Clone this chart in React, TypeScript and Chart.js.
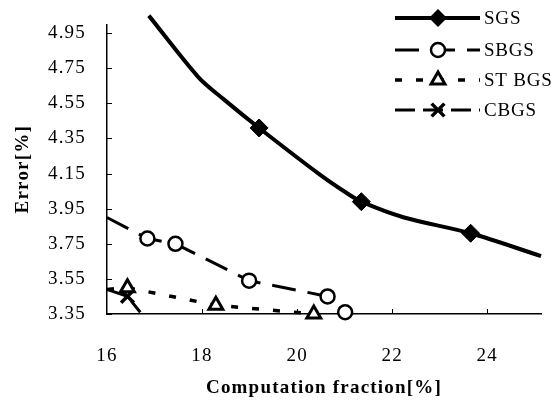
import React, { useEffect, useRef } from 'react';
import { Chart, registerables } from 'chart.js';

Chart.register(...registerables);

// ---- data ----
const X_TICKS = [16, 18, 20, 22, 24];
const Y_TICKS = [3.35, 3.55, 3.75, 3.95, 4.15, 4.35, 4.55, 4.75, 4.95];
const X_MIN = 16;
const X_MAX = 25.13;
const Y_MIN = 3.35;
const Y_MAX = 5.0;

const SERIES_LABELS = ['SGS', 'SBGS', 'ST BGS', 'CBGS'];

const SGS_X = [16.88, 17.92, 18.47, 19.2, 20.45, 21.01, 21.35, 22.25, 23.65, 25.13];
const SGS_Y = [5.05, 4.70, 4.57, 4.41, 4.15, 4.045, 3.99, 3.90, 3.81, 3.68];
const SGS_MARKED = [false, false, false, true, false, false, true, false, true, false];

const SBGS_X = [16.0, 16.85, 17.44, 18.99, 20.64, 21.01];
const SBGS_Y = [3.90, 3.78, 3.75, 3.54, 3.45, 3.36];
const SBGS_MARKED = [false, true, true, true, true, true];

const STBGS_X = [16.0, 16.43, 18.29, 20.35];
const STBGS_Y = [3.49, 3.50, 3.40, 3.35];
const STBGS_MARKED = [false, true, true, true];

const CBGS_X = [16.0, 16.43, 16.70];
const CBGS_Y = [3.49, 3.45, 3.36];
const CBGS_MARKED = [false, true, false];

const FONT = "'Liberation Serif', 'Times New Roman', serif";

const pts = (xs: number[], ys: number[]) => xs.map((x, i) => ({ x, y: ys[i] }));
const radii = (marked: boolean[], r: number) => marked.map((m) => (m ? r : 0));

function drawMarker(ctx: CanvasRenderingContext2D, style: string, x: number, y: number, r: number, bw: number) {
  ctx.save();
  ctx.setLineDash([]);
  ctx.lineWidth = bw;
  ctx.strokeStyle = '#000';
  ctx.beginPath();
  if (style === 'rectRot') {
    ctx.moveTo(x, y - r);
    ctx.lineTo(x + r, y);
    ctx.lineTo(x, y + r);
    ctx.lineTo(x - r, y);
    ctx.closePath();
    ctx.fillStyle = '#000';
    ctx.fill();
  } else if (style === 'circle') {
    ctx.arc(x, y, r, 0, Math.PI * 2);
    ctx.fillStyle = '#fff';
    ctx.fill();
    ctx.stroke();
  } else if (style === 'triangle') {
    ctx.moveTo(x, y - r);
    ctx.lineTo(x + r * 0.866, y + r * 0.5);
    ctx.lineTo(x - r * 0.866, y + r * 0.5);
    ctx.closePath();
    ctx.fillStyle = '#fff';
    ctx.fill();
    ctx.stroke();
  } else if (style === 'crossRot') {
    const d = r * 0.707;
    ctx.moveTo(x - d, y - d);
    ctx.lineTo(x + d, y + d);
    ctx.moveTo(x + d, y - d);
    ctx.lineTo(x - d, y + d);
    ctx.stroke();
  }
  ctx.restore();
}

const spacingPlugin = {
  id: 'spacing',
  beforeDraw(chart: any) {
    (chart.ctx as any).letterSpacing = '1.2px';
  },
};

const legendPlugin = {
  id: 'customLegend',
  afterDraw(chart: any) {
    const ctx: CanvasRenderingContext2D = chart.ctx;
    const rows = [18, 50, 80, 110];
    chart.data.datasets.forEach((ds: any, i: number) => {
      const y = rows[i];
      ctx.save();
      ctx.strokeStyle = '#000';
      ctx.lineWidth = ds.borderWidth;
      ctx.setLineDash(ds.borderDash || []);
      ctx.beginPath();
      ctx.moveTo(395, y);
      ctx.lineTo(480, y);
      ctx.stroke();
      ctx.restore();
      drawMarker(ctx, ds.pointStyle, 438, y, ds.legendRadius, ds.pointBorderWidth);
      ctx.save();
      ctx.fillStyle = '#000';
      ctx.font = `19px ${FONT}`;
      (ctx as any).letterSpacing = '0.8px';
      ctx.textBaseline = 'middle';
      ctx.textAlign = 'left';
      ctx.fillText(ds.label, 484, y + 1);
      ctx.restore();
    });
  },
};

const inwardTicks = {
  id: 'inwardTicks',
  afterDraw(chart: any) {
    const ctx: CanvasRenderingContext2D = chart.ctx;
    const { left, bottom } = chart.chartArea;
    const xs = chart.scales.x;
    const ys = chart.scales.y;
    ctx.save();
    ctx.strokeStyle = '#000';
    ctx.lineWidth = 1;
    ctx.beginPath();
    Y_TICKS.forEach((v) => {
      const p = Math.round(ys.getPixelForValue(v)) + 0.5;
      ctx.moveTo(left, p);
      ctx.lineTo(left + 5, p);
    });
    X_TICKS.forEach((v) => {
      if (v === X_MIN) return;
      const p = Math.round(xs.getPixelForValue(v)) + 0.5;
      ctx.moveTo(p, bottom);
      ctx.lineTo(p, bottom - 5);
    });
    ctx.stroke();
    ctx.restore();
  },
};

export default function App() {
  const ref = useRef<HTMLCanvasElement | null>(null);

  useEffect(() => {
    if (!ref.current) return;
    const chart = new Chart(ref.current, {
      type: 'line',
      data: {
        datasets: [
          {
            label: SERIES_LABELS[0],
            data: pts(SGS_X, SGS_Y),
            borderColor: '#000',
            borderWidth: 4,
            tension: 0.3,
            pointStyle: 'rectRot',
            pointRadius: radii(SGS_MARKED, 9),
            pointBackgroundColor: '#000',
            pointBorderColor: '#000',
            pointBorderWidth: 1,
            legendRadius: 9,
            clip: false,
          } as any,
          {
            label: SERIES_LABELS[1],
            data: pts(SBGS_X, SBGS_Y),
            borderColor: '#000',
            borderWidth: 3,
            borderDash: [24, 12],
            tension: 0,
            pointStyle: 'circle',
            pointRadius: radii(SBGS_MARKED, 7),
            pointBackgroundColor: '#fff',
            pointBorderColor: '#000',
            pointBorderWidth: 2.5,
            legendRadius: 7,
            clip: false,
          } as any,
          {
            label: SERIES_LABELS[2],
            data: pts(STBGS_X, STBGS_Y),
            borderColor: '#000',
            borderWidth: 3.5,
            borderDash: [7, 14],
            tension: 0,
            pointStyle: 'triangle',
            pointRadius: radii(STBGS_MARKED, 8),
            pointBackgroundColor: '#fff',
            pointBorderColor: '#000',
            pointBorderWidth: 3,
            legendRadius: 8,
            clip: false,
          } as any,
          {
            label: SERIES_LABELS[3],
            data: pts(CBGS_X, CBGS_Y),
            borderColor: '#000',
            borderWidth: 3,
            borderDash: [20, 8],
            tension: 0,
            pointStyle: 'crossRot',
            pointRadius: radii(CBGS_MARKED, 9),
            pointBackgroundColor: '#000',
            pointBorderColor: '#000',
            pointBorderWidth: 3.5,
            legendRadius: 9,
            clip: false,
          } as any,
        ],
      },
      options: {
        animation: false,
        responsive: true,
        maintainAspectRatio: false,
        layout: { padding: { top: 24, right: 2, left: 0, bottom: 0 } },
        plugins: {
          legend: { display: false },
          tooltip: { enabled: false },
        },
        scales: {
          x: {
            type: 'linear',
            min: X_MIN,
            max: X_MAX,
            afterBuildTicks: (scale: any) => {
              scale.ticks = X_TICKS.map((v) => ({ value: v }));
            },
            afterFit: (scale: any) => {
              scale.height = 91;
            },
            grid: { display: false },
            border: { display: true, color: '#000', width: 1.5 },
            ticks: {
              color: '#000',
              padding: 23,
              font: { family: FONT, size: 19, lineHeight: 1.2 },
              callback: (v: any) => String(v),
            },
            title: {
              display: true,
              text: 'Computation fraction[%]',
              color: '#000',
              font: { family: FONT, size: 19, weight: 'bold', lineHeight: 1.2 },
              padding: { top: 0, bottom: 6 },
            },
          },
          y: {
            type: 'linear',
            min: Y_MIN,
            max: Y_MAX,
            afterBuildTicks: (scale: any) => {
              scale.ticks = Y_TICKS.map((v) => ({ value: v }));
            },
            afterFit: (scale: any) => {
              scale.width = 107;
            },
            grid: { display: false },
            border: { display: true, color: '#000', width: 1.5 },
            ticks: {
              color: '#000',
              padding: 13,
              font: { family: FONT, size: 19, lineHeight: 1.2 },
              callback: (v: any) => Number(v).toFixed(2),
            },
            title: {
              display: true,
              text: 'Error[%]',
              color: '#000',
              font: { family: FONT, size: 19, weight: 'bold', lineHeight: 1.2 },
              padding: { top: 12, bottom: 0 },
            },
          },
        },
      },
      plugins: [spacingPlugin, legendPlugin, inwardTicks],
    });
    return () => chart.destroy();
  }, []);

  return (
    <div style={{ position: 'fixed', left: 0, top: 0, width: 552, height: 405, background: '#fff' }}>
      <canvas ref={ref} />
    </div>
  );
}
